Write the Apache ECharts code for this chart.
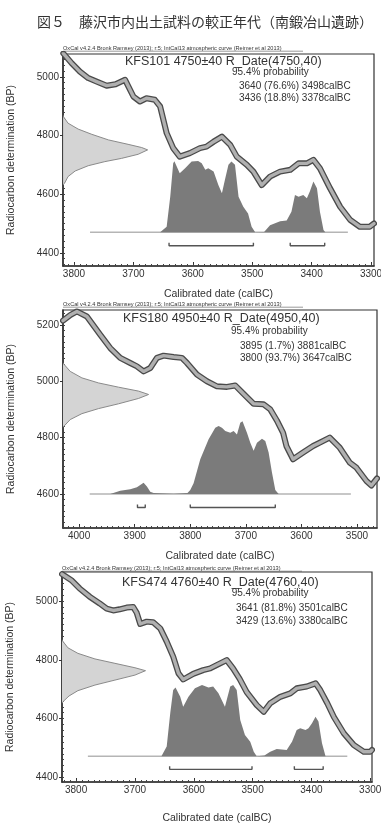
<!DOCTYPE html>
<html>
<head>
<meta charset="utf-8">
<script src="https://cdn.jsdelivr.net/npm/echarts@6/dist/echarts.min.js"></script>
<style>
  html, body { margin: 0; padding: 0; background: #fff; }
  #chart { width: 381px; height: 827px; }
</style>
</head>
<body>
<div id="chart"></div>
<script>
// 図5 藤沢市内出土試料の較正年代 (OxCal plots)

// ---- panel 1 : KFS101 ----
var xTicks1 = [3800, 3700, 3600, 3500, 3400, 3300];
var yTicks1 = [4400, 4600, 4800, 5000];
var curve1 = [[3818,5080],[3815,5075],[3804,5047],[3790,5018],[3776,4996],[3762,4984],[3745,4970],[3730,4975],
  [3714,4990],[3700,4933],[3689,4916],[3678,4927],[3664,4922],[3655,4899],[3644,4808],[3633,4757],[3622,4728],
  [3605,4740],[3588,4757],[3577,4762],[3565,4779],[3551,4796],[3537,4768],[3526,4728],[3509,4700],[3498,4677],
  [3484,4631],[3470,4660],[3453,4677],[3436,4683],[3422,4705],[3408,4705],[3397,4717],[3386,4688],[3369,4620],
  [3352,4557],[3335,4512],[3319,4489],[3302,4489],[3295,4500]];
var prob1 = [[3655,4470],[3644,4489],[3638,4591],[3633,4705],[3631,4712],[3622,4671],[3613,4688],[3602,4711],
  [3591,4713],[3585,4705],[3579,4683],[3574,4688],[3565,4677],[3557,4631],[3551,4603],[3546,4648],[3540,4700],
  [3535,4711],[3529,4700],[3523,4591],[3515,4557],[3507,4534],[3501,4489],[3495,4470],[3480,4471],[3470,4494],
  [3453,4508],[3442,4510],[3434,4540],[3428,4597],[3422,4591],[3414,4597],[3408,4586],[3403,4609],[3397,4643],
  [3391,4620],[3386,4540],[3380,4478],[3377,4470]];
var gauss1 = [[3819,4870],[3818,4865],[3810,4842],[3793,4822],[3770,4804],[3742,4785],[3709,4770],[3686,4759],
  [3676,4751],[3692,4736],[3720,4722],[3748,4711],[3776,4697],[3798,4679],[3810,4660],[3816,4637],[3819,4630]];
var baseline1 = [3773, 3339];
var baseBP1 = 4470;
var ranges1 = [[3640, 3498], [3436, 3378]];
var bracketBP1 = 4424;
var text1 = ['KFS101 4750±40 R_Date(4750,40)', '95.4% probability',
  '3640 (76.6%) 3498calBC', '3436 (18.8%) 3378calBC'];

// ---- panel 2 : KFS180 ----
var xTicks2 = [4000, 3900, 3800, 3700, 3600, 3500];
var yTicks2 = [4600, 4800, 5000, 5200];
var curve2 = [[4029,5215],[4016,5235],[4004,5248],[3986,5230],[3962,5165],[3944,5118],[3926,5083],[3908,5065],
  [3896,5053],[3884,5035],[3872,5047],[3860,5083],[3848,5091],[3830,5086],[3815,5083],[3806,5065],[3788,5024],
  [3770,5000],[3752,4982],[3734,4980],[3719,4985],[3704,4955],[3686,4920],[3668,4918],[3656,4900],[3644,4860],
  [3633,4817],[3627,4770],[3615,4723],[3597,4747],[3579,4770],[3567,4782],[3549,4800],[3531,4764],[3513,4711],
  [3501,4693],[3483,4646],[3474,4630],[3464,4655]];
var prob2 = [[3944,4600],[3926,4611],[3908,4617],[3896,4624],[3890,4632],[3884,4640],[3878,4626],[3872,4608],
  [3866,4603],[3830,4601],[3805,4603],[3800,4614],[3794,4638],[3782,4723],[3767,4794],[3755,4835],[3749,4841],
  [3743,4835],[3737,4823],[3728,4817],[3722,4823],[3716,4811],[3710,4853],[3706,4858],[3698,4817],[3692,4782],
  [3686,4753],[3680,4782],[3671,4796],[3665,4788],[3659,4747],[3653,4676],[3647,4614],[3641,4600]];
var gauss2 = [[4030,5068],[4028,5062],[4016,5035],[3995,5012],[3965,4994],[3929,4979],[3893,4965],[3875,4953],
  [3893,4939],[3929,4920],[3965,4903],[3995,4885],[4016,4864],[4027,4841],[4030,4835]];
var baseline2 = [3981, 3511];
var baseBP2 = 4600;
var ranges2 = [[3895, 3881], [3800, 3647]];
var bracketBP2 = 4552;
var text2 = ['KFS180 4950±40 R_Date(4950,40)', '95.4% probability',
  '3895 (1.7%) 3881calBC', '3800 (93.7%) 3647calBC'];

// ---- panel 3 : KFS474 ----
var xTicks3 = [3800, 3700, 3600, 3500, 3400, 3300];
var yTicks3 = [4400, 4600, 4800, 5000];
var curve3 = [[3824,5092],[3822,5088],[3808,5071],[3794,5043],[3777,5015],[3760,4992],[3748,4974],[3737,4968],
  [3726,4972],[3714,4978],[3703,4980],[3697,4960],[3691,4922],[3680,4930],[3669,4928],[3657,4907],[3646,4862],
  [3635,4811],[3626,4754],[3618,4733],[3601,4752],[3584,4765],[3572,4771],[3555,4788],[3544,4799],[3533,4770],
  [3522,4735],[3510,4690],[3493,4646],[3481,4623],[3470,4652],[3453,4674],[3436,4686],[3425,4703],[3408,4709],
  [3393,4720],[3385,4697],[3373,4652],[3362,4606],[3345,4550],[3328,4510],[3311,4487],[3300,4487],[3297,4493]];
var prob3 = [[3655,4472],[3646,4505],[3640,4618],[3635,4697],[3631,4706],[3623,4674],[3618,4640],[3609,4674],
  [3598,4703],[3586,4714],[3575,4706],[3567,4709],[3558,4686],[3547,4640],[3538,4709],[3533,4714],[3527,4697],
  [3521,4595],[3513,4544],[3504,4521],[3498,4487],[3493,4472],[3480,4474],[3470,4487],[3459,4496],[3442,4493],
  [3433,4521],[3425,4561],[3419,4567],[3410,4561],[3405,4567],[3399,4584],[3393,4606],[3388,4590],[3382,4516],
  [3376,4472]];
var gauss3 = [[3825,4872],[3824,4867],[3814,4841],[3797,4822],[3768,4803],[3734,4788],[3700,4773],[3682,4763],
  [3700,4748],[3734,4731],[3768,4714],[3797,4695],[3812,4677],[3822,4658],[3825,4650]];
var baseline3 = [3780, 3339];
var baseBP3 = 4472;
var ranges3 = [[3641, 3501], [3429, 3380]];
var bracketBP3 = 4427;
var text3 = ['KFS474 4760±40 R_Date(4760,40)', '95.4% probability',
  '3641 (81.8%) 3501calBC', '3429 (13.6%) 3380calBC'];

var headerText = 'OxCal v4.2.4 Bronk Ramsey (2013); r:5; IntCal13 atmospheric curve (Reimer et al 2013)';
var figTitle = '図５　藤沢市内出土試料の較正年代（南鍛冶山遺跡）';

// ---- layout ----
var FONT = '"Liberation Sans", Arial, sans-serif';
var panels = [
  { curve: curve1, prob: prob1, gauss: gauss1, baseline: baseline1, baseBP: baseBP1, ranges: ranges1,
    bracketBP: bracketBP1, xTicks: xTicks1, yTicks: yTicks1, text: text1,
    grid: { left: 63, top: 54, width: 311, height: 212 }, xr: [3295, 3818.5], yr: [4355, 5078],
    nameGap: 23, tx: [125, 232, 239], ty: [48, 62, 72.7, 86, 98.7] },
  { curve: curve2, prob: prob2, gauss: gauss2, baseline: baseline2, baseBP: baseBP2, ranges: ranges2,
    bracketBP: bracketBP2, xTicks: xTicks2, yTicks: yTicks2, text: text2,
    grid: { left: 63, top: 310, width: 314, height: 218 }, xr: [3464, 4029], yr: [4479, 5253],
    nameGap: 23, tx: [123, 231, 240], ty: [304, 319, 331.7, 346, 358.3] },
  { curve: curve3, prob: prob3, gauss: gauss3, baseline: baseline3, baseBP: baseBP3, ranges: ranges3,
    bracketBP: bracketBP3, xTicks: xTicks3, yTicks: yTicks3, text: text3,
    grid: { left: 62, top: 572, width: 310, height: 210 }, xr: [3297, 3824], yr: [4384, 5099],
    nameGap: 31, tx: [122, 231.7, 236], ty: [568, 582.7, 593.3, 608.3, 621] }
];

function steps(from, to, step) {
  var out = [];
  var start = Math.ceil(from / step) * step;
  for (var v = start; v <= to; v += step) out.push(v);
  return out;
}

function plain(v) { return String(v); }

function polySeries(points, idx, fill, stroke, z) {
  return {
    type: 'custom', xAxisIndex: idx * 2, yAxisIndex: idx * 2, clip: true, silent: true, z: z,
    data: points,
    encode: { x: 0, y: 1 },
    renderItem: function (params, api) {
      if (params.dataIndex !== 0) return null;
      var pts = points.map(function (p) { return api.coord(p); });
      return {
        type: 'polygon',
        shape: { points: pts },
        style: { fill: fill, stroke: stroke || null, lineWidth: stroke ? 1 : 0 }
      };
    }
  };
}

var grids = [], xAxes = [], yAxes = [], series = [], graphics = [];

panels.forEach(function (p, i) {
  grids.push({ left: p.grid.left, top: p.grid.top, width: p.grid.width, height: p.grid.height,
    show: true, borderColor: '#333', borderWidth: 1.2, containLabel: false, outerBoundsMode: 'none' });

  // main x axis + minor tick axis
  xAxes.push({
    type: 'value', gridIndex: i, inverse: true, min: p.xr[0], max: p.xr[1], position: 'bottom',
    axisLine: { lineStyle: { color: '#333', width: 1.6 } },
    axisTick: { customValues: p.xTicks, inside: true, length: 4, lineStyle: { color: '#333' } },
    axisLabel: { customValues: p.xTicks, formatter: plain, margin: 3, fontSize: 10, color: '#333', fontFamily: FONT },
    splitLine: { show: false },
    name: 'Calibrated date (calBC)', nameLocation: 'middle', nameGap: p.nameGap,
    nameTextStyle: { fontSize: 10.5, color: '#333', fontFamily: FONT }
  });
  xAxes.push({
    type: 'value', gridIndex: i, inverse: true, min: p.xr[0], max: p.xr[1], position: 'bottom',
    axisLine: { show: false },
    axisTick: { customValues: steps(p.xr[0], p.xr[1], 10), inside: true, length: 2, lineStyle: { color: '#444' } },
    axisLabel: { show: false }, splitLine: { show: false }
  });

  yAxes.push({
    type: 'value', gridIndex: i, min: p.yr[0], max: p.yr[1], position: 'left',
    axisLine: { show: true, lineStyle: { color: '#333', width: 1.6 } },
    axisTick: { customValues: p.yTicks, inside: false, length: 3, lineStyle: { color: '#333' } },
    axisLabel: { customValues: p.yTicks, formatter: plain, margin: 4, fontSize: 10, color: '#333', fontFamily: FONT },
    splitLine: { show: false },
    name: 'Radiocarbon determination (BP)', nameLocation: 'middle', nameGap: 46,
    nameTextStyle: { fontSize: 10.5, color: '#333', fontFamily: FONT }
  });
  yAxes.push({
    type: 'value', gridIndex: i, min: p.yr[0], max: p.yr[1], position: 'left',
    axisLine: { show: false },
    axisTick: { customValues: steps(p.yr[0], p.yr[1], 20), inside: true, length: 2, lineStyle: { color: '#444' } },
    axisLabel: { show: false }, splitLine: { show: false }
  });

  // radiocarbon date distribution on the y axis
  series.push(polySeries(p.gauss, i, '#d4d4d4', '#8a8a8a', 2));
  // calibrated probability distribution
  series.push(polySeries(p.prob, i, '#7b7b7b', null, 3));

  // baseline of the distribution
  series.push({
    type: 'line', xAxisIndex: i * 2, yAxisIndex: i * 2, silent: true, z: 2, showSymbol: false,
    data: [[p.baseline[0], p.baseBP], [p.baseline[1], p.baseBP]],
    lineStyle: { color: '#b5b5b5', width: 1.5 }
  });

  // 95.4% range brackets
  p.ranges.forEach(function (r) {
    var h = (p.yr[1] - p.yr[0]) / p.grid.height * 3;
    series.push({
      type: 'line', xAxisIndex: i * 2, yAxisIndex: i * 2, silent: true, z: 4, showSymbol: false,
      data: [[r[0], p.bracketBP + h], [r[0], p.bracketBP], [r[1], p.bracketBP], [r[1], p.bracketBP + h]],
      lineStyle: { color: '#555', width: 1.4 }
    });
  });

  // calibration curve band: dark edges, grey core
  series.push({
    type: 'line', xAxisIndex: i * 2, yAxisIndex: i * 2, silent: true, z: 5, showSymbol: false,
    data: p.curve, clip: true,
    lineStyle: { color: '#4a4a4a', width: 6, join: 'round', cap: 'round' }
  });
  series.push({
    type: 'line', xAxisIndex: i * 2, yAxisIndex: i * 2, silent: true, z: 6, showSymbol: false,
    data: p.curve, clip: true,
    lineStyle: { color: '#b0b0b0', width: 3.4, join: 'round', cap: 'round' }
  });

  // texts
  graphics.push({ type: 'text', x: p.grid.left, y: p.ty[0],
    style: { text: headerText, fill: '#333', font: '5.6px ' + FONT, verticalAlign: 'middle', align: 'left' } });
  graphics.push({ type: 'line', shape: { x1: p.grid.left, y1: p.ty[0] + 3.2, x2: p.grid.left + 240, y2: p.ty[0] + 3.2 },
    style: { stroke: '#555', lineWidth: 0.6 } });
  graphics.push({ type: 'text', x: p.tx[0], y: p.ty[1],
    style: { text: p.text[0], fill: '#333', font: '12.5px ' + FONT, verticalAlign: 'middle', align: 'left' } });
  graphics.push({ type: 'text', x: p.tx[1], y: p.ty[2],
    style: { text: p.text[1], fill: '#333', font: '10px ' + FONT, verticalAlign: 'middle', align: 'left' } });
  graphics.push({ type: 'text', x: p.tx[2], y: p.ty[3],
    style: { text: p.text[2], fill: '#333', font: '10px ' + FONT, verticalAlign: 'middle', align: 'left' } });
  graphics.push({ type: 'text', x: p.tx[2], y: p.ty[4],
    style: { text: p.text[3], fill: '#333', font: '10px ' + FONT, verticalAlign: 'middle', align: 'left' } });
});

graphics.push({ type: 'text', x: 205, y: 22,
  style: { text: figTitle, fill: '#333', font: '14px "Noto Sans CJK JP"', verticalAlign: 'middle', align: 'center' } });

var chart = echarts.init(document.getElementById('chart'), null, { renderer: 'canvas' });
chart.setOption({
  animation: false,
  backgroundColor: '#fff',
  grid: grids,
  xAxis: xAxes,
  yAxis: yAxes,
  series: series,
  graphic: graphics
});
</script>
</body>
</html>
